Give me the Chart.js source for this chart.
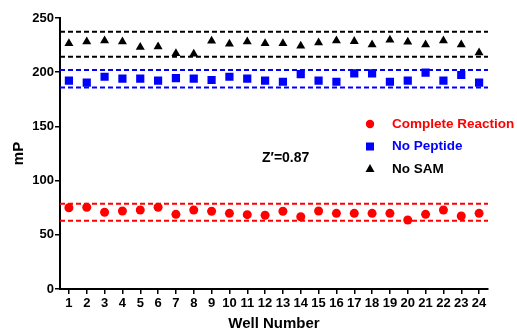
<!DOCTYPE html>
<html>
<head>
<meta charset="utf-8">
<script src="https://cdn.jsdelivr.net/npm/chart.js@4"></script>
<style>
  html, body { margin: 0; padding: 0; background: #fff; }
  #wrap { width: 517px; height: 331px; }
</style>
</head>
<body>
<div id="wrap"><canvas id="myChart"></canvas></div>
<script>
const wells = ['1','2','3','4','5','6','7','8','9','10','11','12','13','14','15','16','17','18','19','20','21','22','23','24'];

const completeReaction = [75, 75.4, 70.8, 72, 72.9, 75.4, 68.9, 72.9, 71.7, 69.8, 68.6, 68, 71.7, 66.7, 72, 69.8, 69.8, 69.8, 69.8, 63.7, 68.9, 72.9, 67.3, 69.8];
const noPeptide = [192.2, 190.3, 195.8, 194, 194, 192.2, 194.6, 194, 192.8, 195.8, 194, 192.2, 191.2, 198.3, 192.2, 191.2, 199, 199, 191.2, 192.2, 199.6, 192.2, 197.4, 190.3];
const noSam = [226.6, 228.2, 229.1, 228.2, 223, 223.5, 217.4, 216.8, 228.8, 226, 228.2, 226.6, 226.6, 224.2, 227.2, 229.1, 228.5, 225.4, 229.7, 227.9, 225.4, 229.1, 225.4, 218];

// dashed limit lines (upper, lower)
const completeLimits = [78.7, 63];
const peptideLimits = [202, 186];
const samLimits = [237.4, 214.3];

const zPrime = "Z\u2032=0.87";

const font = 'Liberation Sans, Arial, sans-serif';

function limitLine(v, color) {
  return {
    data: [{x: 0, y: v}, {x: 1, y: v}],
    xAxisID: 'xl',
    borderColor: color,
    borderWidth: 2,
    borderDash: [5, 3],
    pointRadius: 0,
    showLine: true,
    fill: false
  };
}

const legendItems = [
  {label: 'Complete Reaction', color: '#ff0000', shape: 'circle'},
  {label: 'No Peptide', color: '#0000ff', shape: 'rect'},
  {label: 'No SAM', color: '#000000', shape: 'triangle'}
];

const extras = {
  id: 'extras',
  afterDraw(chart) {
    const c = chart.ctx;
    c.save();
    c.font = 'bold 13.5px ' + font;
    c.textBaseline = 'middle';
    legendItems.forEach((it, i) => {
      const y = 124 + i * 22.5;
      const x = 370;
      c.fillStyle = it.color;
      c.beginPath();
      if (it.shape === 'circle') {
        c.arc(x, y, 4.2, 0, Math.PI * 2);
      } else if (it.shape === 'rect') {
        c.rect(x - 4, y - 4, 8, 8);
      } else {
        c.moveTo(x, y - 5);
        c.lineTo(x + 4.5, y + 3);
        c.lineTo(x - 4.5, y + 3);
        c.closePath();
      }
      c.fill();
      c.fillText(it.label, 392, y);
    });
    c.fillStyle = '#000';
    c.font = 'bold 14px ' + font;
    c.fillText(zPrime, 262, 158);
    c.restore();
  }
};

const ctx = document.getElementById('myChart');

new Chart(ctx, {
  type: 'line',
  data: {
    labels: wells,
    datasets: [
      {label: 'Complete Reaction', data: completeReaction, showLine: false, pointStyle: 'circle', pointRadius: 4.5, backgroundColor: '#ff0000', borderColor: '#ff0000', borderWidth: 0},
      {label: 'No Peptide', data: noPeptide, showLine: false, pointStyle: 'rect', pointRadius: 5.8, backgroundColor: '#0000ff', borderColor: '#0000ff', borderWidth: 0},
      {label: 'No SAM', data: noSam, showLine: false, pointStyle: 'triangle', pointRadius: 5.2, backgroundColor: '#000000', borderColor: '#000000', borderWidth: 0},
      limitLine(completeLimits[0], '#ff0000'),
      limitLine(completeLimits[1], '#ff0000'),
      limitLine(peptideLimits[0], '#0000ff'),
      limitLine(peptideLimits[1], '#0000ff'),
      limitLine(samLimits[0], '#000000'),
      limitLine(samLimits[1], '#000000')
    ]
  },
  options: {
    responsive: true,
    maintainAspectRatio: false,
    animation: false,
    layout: { padding: {left: 0, right: 29, top: 18, bottom: 0} },
    plugins: { legend: { display: false }, tooltip: { enabled: false } },
    scales: {
      x: {
        type: 'category',
        offset: true,
        grid: { drawOnChartArea: false, drawTicks: true, tickLength: 5, color: '#000', lineWidth: 1.5, offset: false },
        border: { display: true, color: '#000', width: 2 },
        ticks: { color: '#000', font: { family: font, weight: 'bold', size: 13 }, padding: 2, maxRotation: 0, autoSkip: false },
        title: { display: true, text: 'Well Number', color: '#000', font: { family: font, weight: 'bold', size: 15, lineHeight: 1 }, padding: {top: 0, bottom: 0} },
        afterFit(scale) { scale.height = 42; }
      },
      xl: { type: 'linear', display: false, min: 0, max: 1 },
      y: {
        min: 0,
        max: 250,
        ticks: { stepSize: 50, color: '#000', font: { family: font, weight: 'bold', size: 13 }, padding: 1 },
        grid: { drawOnChartArea: false, drawTicks: true, tickLength: 5, color: '#000', lineWidth: 1.5 },
        border: { display: true, color: '#000', width: 2 },
        title: { display: true, text: 'mP', color: '#000', font: { family: font, weight: 'bold', size: 15 }, padding: {top: 10, bottom: 0} },
        afterFit(scale) { scale.width = 60; }
      }
    }
  },
  plugins: [extras]
});
</script>
</body>
</html>
